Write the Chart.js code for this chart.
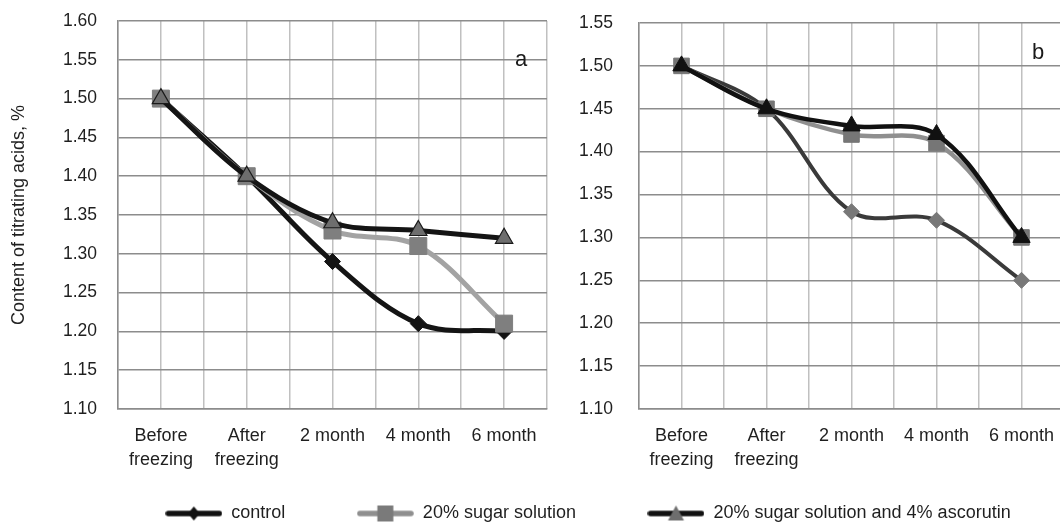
<!DOCTYPE html>
<html><head><meta charset="utf-8">
<script src="https://cdn.jsdelivr.net/npm/chart.js@4.4.0/dist/chart.umd.min.js"></script>
<style>
html,body{margin:0;padding:0;background:#fff;width:1060px;height:525px;overflow:hidden;}
body{position:relative;}
canvas{position:absolute;}
#ca{left:0;top:0;}
#cb{left:560px;top:0;}
#cl{left:0;top:433px;pointer-events:none;}
.lab{position:absolute;font:22px 'Liberation Sans',Arial,sans-serif;color:#1a1a1a;line-height:22px;}
</style></head><body>
<canvas id="ca" width="560" height="480"></canvas>
<canvas id="cb" width="520" height="480"></canvas>
<canvas id="cl" width="1176" height="200"></canvas>
<div class="lab" style="left:515px;top:48px">a</div>
<div class="lab" style="left:1032px;top:41px">b</div>
<script>
// ---- data ----
const categories = [['Before','freezing'],['After','freezing'],'2 month','4 month','6 month'];
const seriesNames = ['control','20% sugar solution','20% sugar solution and 4% ascorutin'];
const aControl   = [1.50,1.40,1.29,1.21,1.20];
const aSugar     = [1.50,1.40,1.33,1.31,1.21];
const aAscorutin = [1.50,1.40,1.34,1.33,1.32];
const bControl   = [1.50,1.45,1.33,1.32,1.25];
const bSugar     = [1.50,1.45,1.42,1.41,1.30];
const bAscorutin = [1.50,1.45,1.43,1.42,1.30];
const yRangeA = [1.10, 1.60];
const yRangeB = [1.10, 1.55];
const yStep = 0.05;
const yTitle = 'Content of titrating acids, %';

// ---- styling ----
const FONT = "'Liberation Sans', Arial, sans-serif";
const TEXT = '#1f1f1f';
const CLEAR = 'rgba(0,0,0,0)';
const toXY = vals => vals.map((v,i)=>({x:i,y:v}));

function ds(label, vals, o){
  return Object.assign({label, data: toXY(vals), tension:0.35, fill:false,
    pointHoverRadius:o.pointRadius, borderCapStyle:'round', borderJoinStyle:'round'}, o);
}

function panel(id, datasets, yr, yWidth, yGap, pad, showTitle){
  return new Chart(document.getElementById(id), {
    type:'line',
    data:{datasets},
    options:{
      responsive:false, animation:false,
      layout:{padding:pad},
      plugins:{legend:{display:false}, tooltip:{enabled:false}},
      scales:{
        x:{type:'linear', min:-0.5, max:categories.length-0.5,
          afterFit: s => { s.height = 71; },
          ticks:{stepSize:0.5, autoSkip:false, maxRotation:0, maxTicksLimit:30, padding:0,
            color:TEXT, font:{family:FONT, size:18, lineHeight:1.35},
            callback: v => { const r = Math.round(v); return Math.abs(v-r)<1e-6 ? categories[r] : ''; }},
          grid:{color:'#c0c0c0', lineWidth:1.5, drawTicks:true, tickLength:15, tickColor:CLEAR},
          border:{display:true, color:'#8c8c8c', width:1.5}
        },
        y:{type:'linear', min:yr[0], max:yr[1],
          afterFit: s => { s.width = yWidth; },
          ticks:{stepSize:yStep, padding:0, color:TEXT, font:{family:FONT, size:17.5},
            callback: v => v.toFixed(2)},
          grid:{color:'#8c8c8c', lineWidth:1.5, drawTicks:true, tickLength:yGap, tickColor:CLEAR},
          border:{display:true, color:'#8c8c8c', width:1.5},
          title:{display:showTitle, text:yTitle, color:TEXT, font:{family:FONT, size:18}, padding:{top:8,bottom:0}}
        }
      }
    }
  });
}

panel('ca', [
  ds(seriesNames[0], aControl, {borderColor:'#141414', borderWidth:5, pointStyle:'rectRot', pointRadius:8,
     pointBackgroundColor:'#141414', pointBorderColor:'#141414', pointBorderWidth:1, order:3}),
  ds(seriesNames[1], aSugar, {borderColor:'#a3a3a3', borderWidth:5, pointStyle:'rect', pointRadius:12,
     pointBackgroundColor:'#7f7f7f', pointBorderColor:'#7f7f7f', pointBorderWidth:1, order:2}),
  ds(seriesNames[2], aAscorutin, {borderColor:'#141414', borderWidth:5, pointStyle:'triangle', pointRadius:10,
     pointBackgroundColor:'#6e6e6e', pointBorderColor:'#1a1a1a', pointBorderWidth:1.2, order:1})
], yRangeA, 118, 21, {left:0, top:21, right:13, bottom:0}, true);

panel('cb', [
  ds(seriesNames[0], bControl, {borderColor:'#3a3a3a', borderWidth:4, pointStyle:'rectRot', pointRadius:8,
     pointBackgroundColor:'#787878', pointBorderColor:'#787878', pointBorderWidth:1, order:3}),
  ds(seriesNames[1], bSugar, {borderColor:'#8f8f8f', borderWidth:4.5, pointStyle:'rect', pointRadius:11,
     pointBackgroundColor:'#767676', pointBorderColor:'#767676', pointBorderWidth:1, order:2}),
  ds(seriesNames[2], bAscorutin, {borderColor:'#111111', borderWidth:4.5, pointStyle:'triangle', pointRadius:10,
     pointBackgroundColor:'#111111', pointBorderColor:'#111111', pointBorderWidth:1, order:1})
], yRangeB, 79, 26, {left:0, top:23, right:16, bottom:0}, false);

// ---- legend swatches (line + marker) ----
function swatch(lineColor, marker, fill){
  const c = document.createElement('canvas'); c.width = 57; c.height = 24;
  const g = c.getContext('2d');
  g.strokeStyle = lineColor; g.lineWidth = 5.5; g.lineCap = 'round';
  g.beginPath(); g.moveTo(3,12); g.lineTo(54,12); g.stroke();
  g.fillStyle = fill; g.beginPath();
  const cx = 28.5, cy = 12;
  if (marker === 'diamond'){ g.moveTo(cx,cy-7); g.lineTo(cx+6,cy); g.lineTo(cx,cy+7); g.lineTo(cx-6,cy); }
  else if (marker === 'square'){ g.rect(cx-8,cy-8,16,16); }
  else { g.moveTo(cx,cy-8); g.lineTo(cx+8,cy+7); g.lineTo(cx-8,cy+7); }
  g.closePath(); g.fill();
  return c;
}
const swatches = [
  swatch('#111111','diamond','#111111'),
  swatch('#8f8f8f','square','#7a7a7a'),
  swatch('#111111','triangle','#6e6e6e')
];

new Chart(document.getElementById('cl'), {
  type:'line',
  data:{labels:[], datasets: seriesNames.map(n => ({label:n, data:[]}))},
  options:{
    responsive:false, animation:false,
    layout:{padding:0},
    scales:{x:{display:false}, y:{display:false}},
    plugins:{
      tooltip:{enabled:false},
      legend:{display:true, position:'top', align:'center',
        labels:{usePointStyle:true, pointStyleWidth:57, boxHeight:18, padding:71.5,
          color:TEXT, font:{family:FONT, size:18},
          generateLabels: () => seriesNames.map((n,i) => ({text:n, pointStyle:swatches[i],
            fillStyle:'#000', strokeStyle:'#000', lineWidth:1, hidden:false, datasetIndex:i, fontColor:TEXT}))
        }}
    }
  }
});
</script>
</body></html>
